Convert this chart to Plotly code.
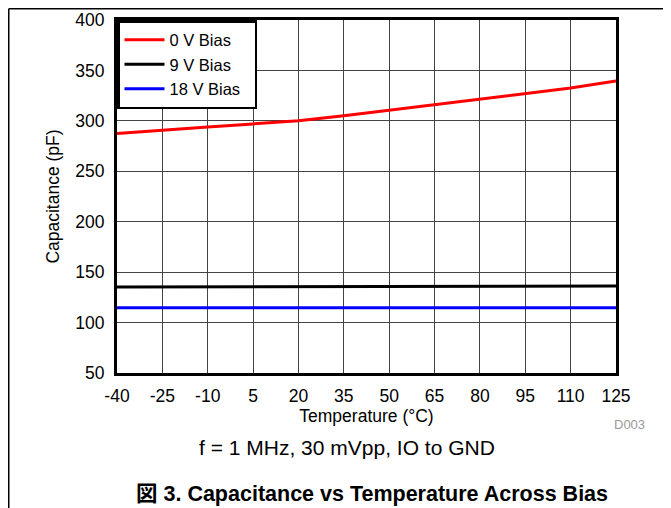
import plotly.graph_objects as go

# ---- data ----
temperature = [-40, -25, -10, 5, 20, 35, 50, 65, 80, 95, 110, 125]
cap_0v = [287.5, 291.0, 294.0, 297.0, 300.0, 305.0, 310.5, 316.0, 321.0, 327.0, 332.5, 339.5]
cap_9v = [135.2, 135.3, 135.4, 135.5, 135.5, 135.6, 135.7, 135.8, 135.9, 136.0, 136.1, 136.3]
cap_18v = [114.6, 114.6, 114.6, 114.6, 114.7, 114.7, 114.7, 114.7, 114.7, 114.8, 114.8, 114.8]

series_names = ["0 V Bias", "9 V Bias", "18 V Bias"]
series_colors = ["#ff0000", "#000000", "#0000ff"]

x_ticks = [-40, -25, -10, 5, 20, 35, 50, 65, 80, 95, 110, 125]
y_ticks = [50, 100, 150, 200, 250, 300, 350, 400]

FONT = "Liberation Sans, Arial, sans-serif"
OFF = 8  # default page body margin
W, H = 671 - OFF, 508 - OFF
ML, MR, MT, MB = 117 - OFF, 55, 20 - OFF, 135
PW, PH = W - ML - MR, H - MT - MB


def px(xpage):
    return (xpage - OFF - ML) / PW


def py(ypage):
    return (H - MB - (ypage - OFF)) / PH


NB = "\u00a0"

fig = go.Figure()
for name, ys, col in zip(series_names, [cap_0v, cap_9v, cap_18v], series_colors):
    fig.add_trace(go.Scatter(x=temperature, y=ys, mode="lines", name=name + NB * 2,
                             line=dict(color=col, width=3)))

fig.update_layout(
    width=W, height=H,
    margin=dict(l=ML, r=MR, t=MT, b=MB, autoexpand=False),
    paper_bgcolor="white", plot_bgcolor="white",
    font=dict(family=FONT, size=17.5, color="black"),
    showlegend=True,
    legend=dict(x=0, y=1, xanchor="left", yanchor="top",
                bgcolor="white", bordercolor="black", borderwidth=2.5,
                font=dict(size=16.5, color="black"),
                itemwidth=40, tracegroupgap=0),
    xaxis=dict(range=[-40, 125], tickvals=x_ticks, ticktext=[str(v) for v in x_ticks],
               showgrid=True, gridcolor="#444444", gridwidth=1,
               showline=True, linecolor="black", linewidth=3, mirror=True,
               ticks="", zeroline=False, ticklabelstandoff=5, automargin=False,
               title=dict(text="Temperature (°C)", font=dict(size=17.5), standoff=2)),
    yaxis=dict(range=[50, 400], tickvals=y_ticks, ticktext=[str(v) for v in y_ticks],
               showgrid=True, gridcolor="#444444", gridwidth=1,
               showline=True, linecolor="black", linewidth=3, mirror=True,
               ticks="", zeroline=False, ticklabelstandoff=6, automargin=False,
               title=dict(text="Capacitance (pF)", font=dict(size=17.5), standoff=12)),
)

# page frame lines
fig.add_shape(type="line", xref="paper", yref="paper", x0=px(8.75), x1=px(671), y0=py(8.75), y1=py(8.75),
              line=dict(color="black", width=1.5))
fig.add_shape(type="line", xref="paper", yref="paper", x0=px(8.75), x1=px(8.75), y0=py(8.75), y1=py(508),
              line=dict(color="black", width=1.5))

fig.add_annotation(text="D003", xref="paper", yref="paper", x=px(629), y=py(424),
                   xanchor="center", yanchor="middle",
                   showarrow=False, font=dict(size=13, color="#999999"))
fig.add_annotation(text="f = 1 MHz, 30 mVpp, IO to GND", xref="paper", yref="paper",
                   x=px(347), y=py(447), xanchor="center", yanchor="middle",
                   showarrow=False, font=dict(size=21, color="black"))
fig.add_annotation(text="<b>図 3. Capacitance vs Temperature Across Bias</b>", xref="paper", yref="paper",
                   x=px(372), y=py(494), xanchor="center", yanchor="middle",
                   showarrow=False,
                   font=dict(size=21.5, color="black", family="Liberation Sans, Arial, Noto Sans CJK JP, sans-serif"))

fig.write_html("out.html")
